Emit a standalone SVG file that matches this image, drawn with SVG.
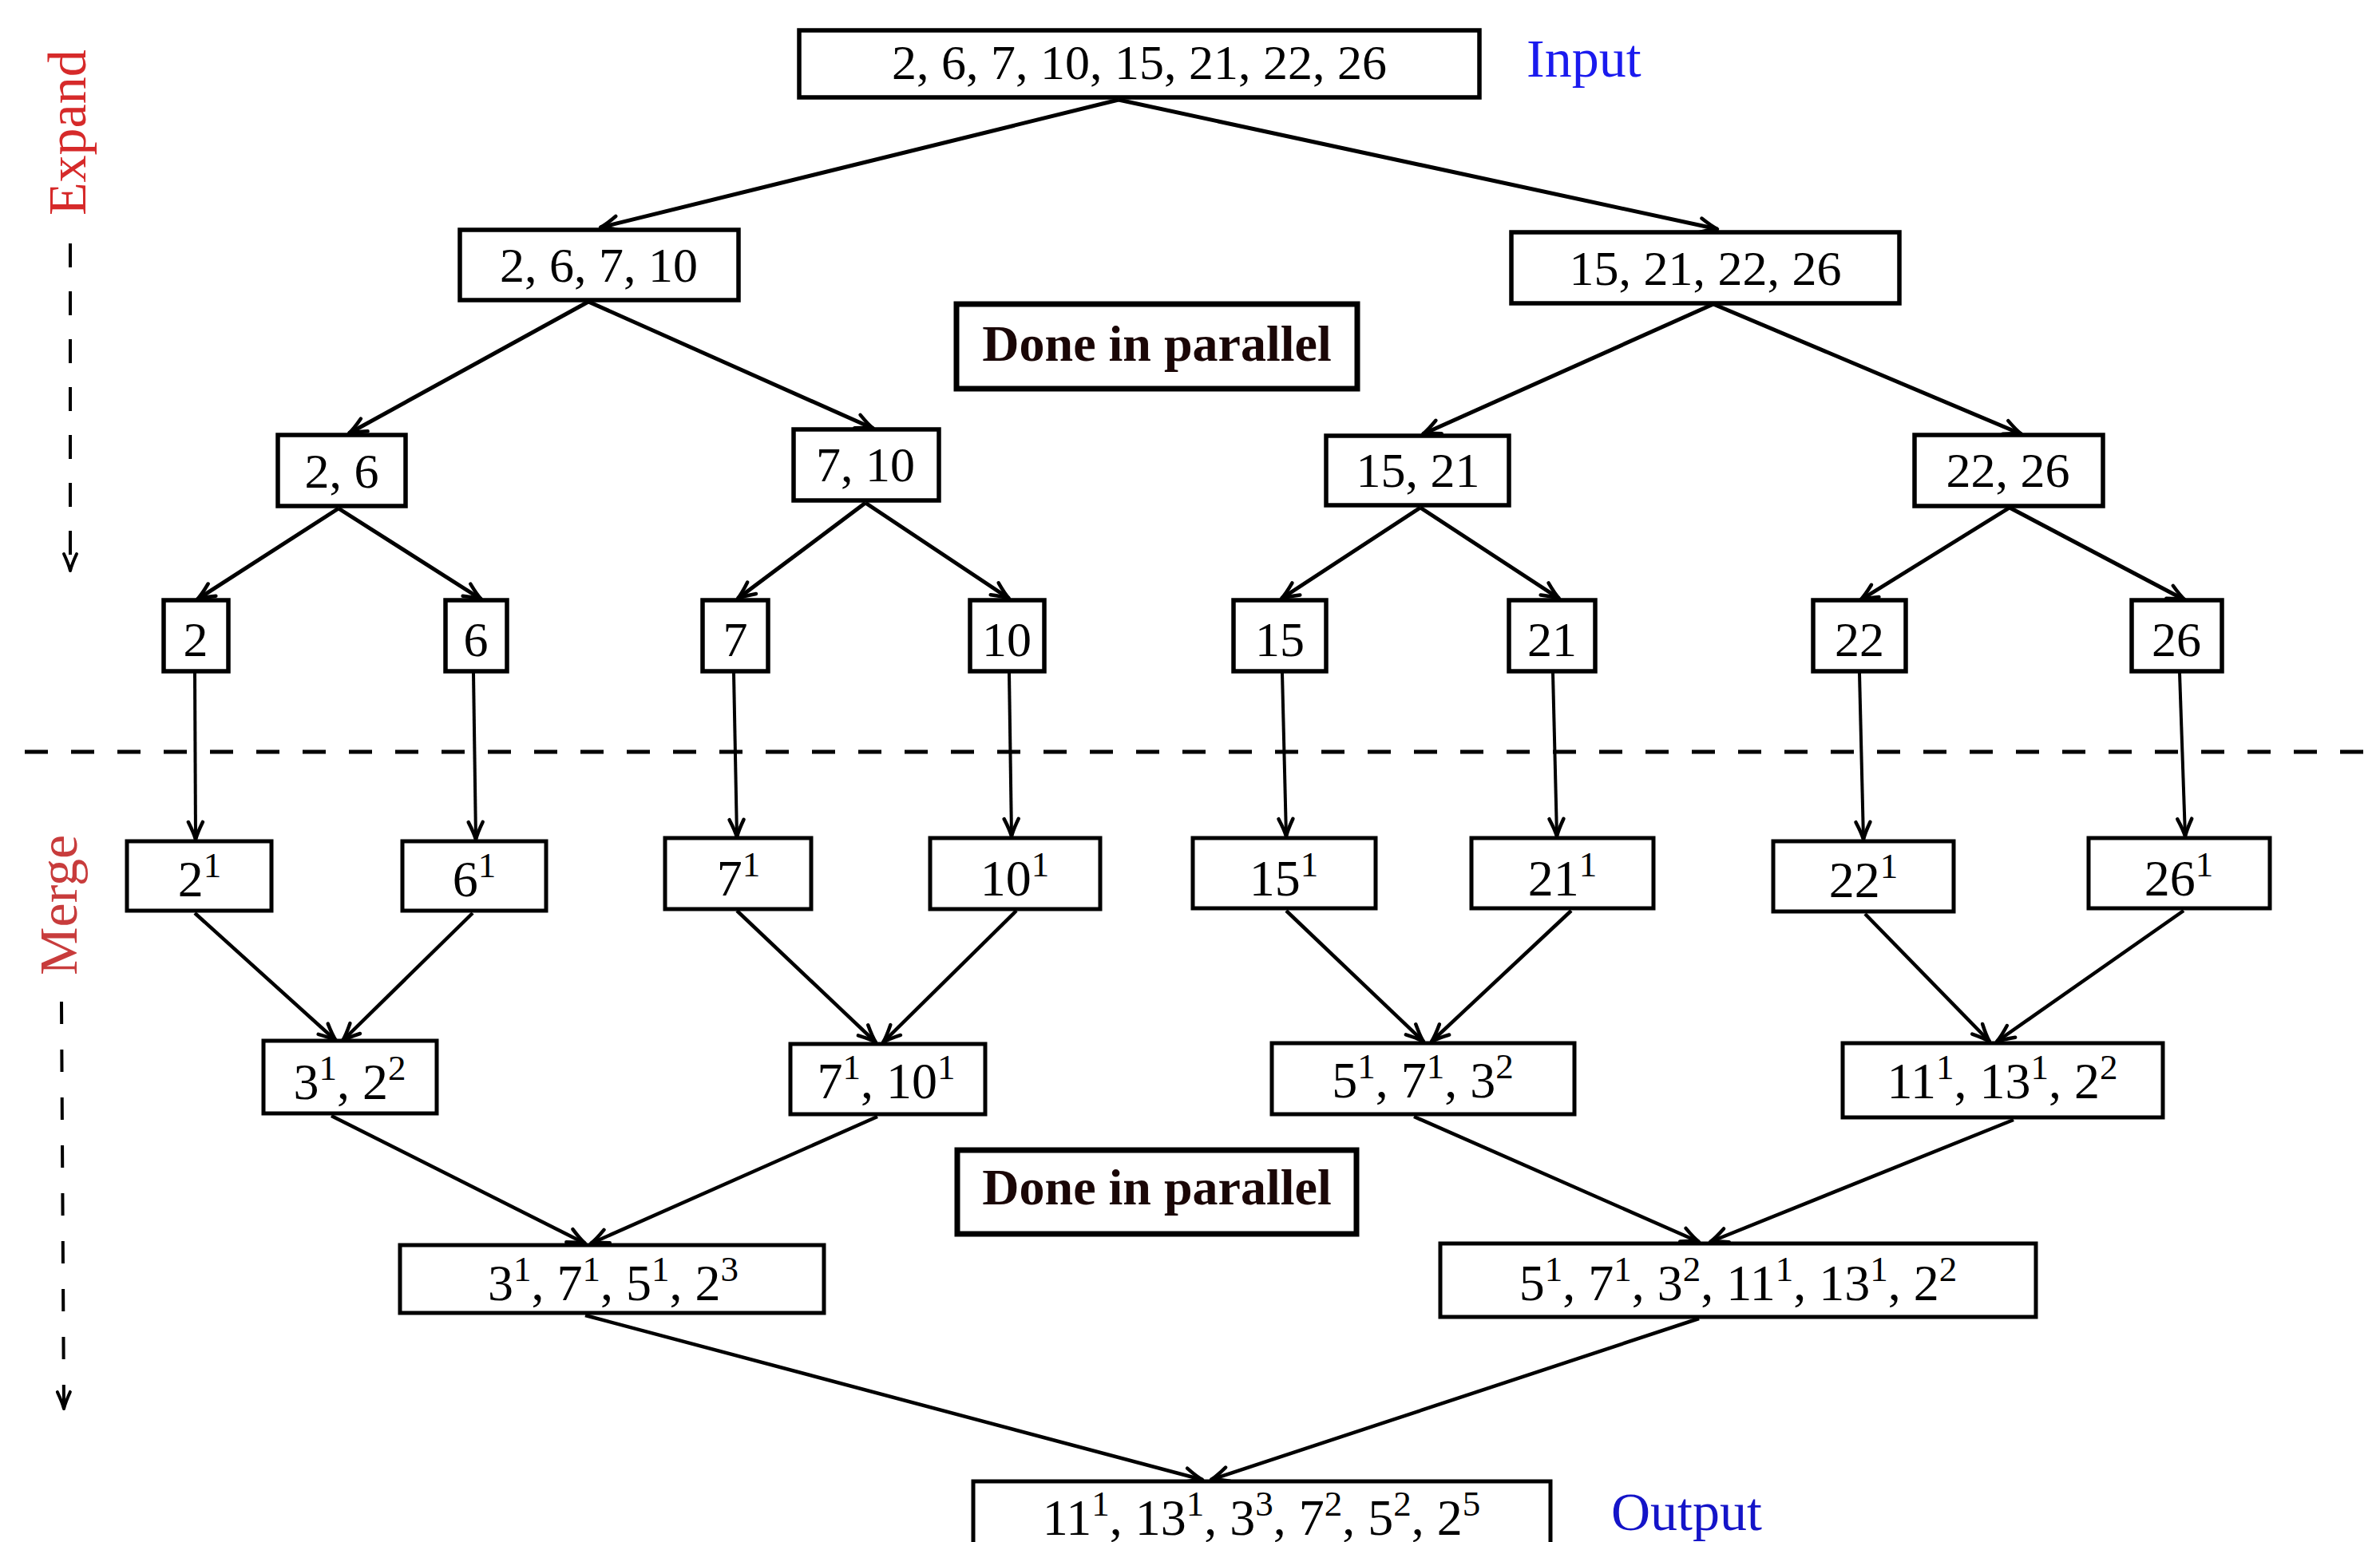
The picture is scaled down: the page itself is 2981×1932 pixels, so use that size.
<svg xmlns="http://www.w3.org/2000/svg" width="2981" height="1932" viewBox="0 0 2981 1932">
<style>
.bx{fill:#fff;stroke:#000;stroke-width:5.5}
.bl{fill:#fff;stroke:#000;stroke-width:5}
.bd{fill:#fff;stroke:#000;stroke-width:7}
.t{font-family:"Liberation Serif","DejaVu Serif",serif;font-size:62px;fill:#000;text-anchor:middle}
.m{font-family:"Liberation Serif","DejaVu Serif",serif;font-size:64px;fill:#000;text-anchor:middle}
.s{font-size:45px}
.dp{font-family:"Liberation Serif","DejaVu Serif",serif;font-size:64px;font-weight:bold;fill:#1a0606;text-anchor:middle}
.lbl{font-family:"Liberation Serif","DejaVu Serif",serif;font-size:68px}
.cu line{stroke:#000;stroke-width:5;marker-end:url(#ah)}
.cl line{stroke:#000;stroke-width:4.5;marker-end:url(#ah)}
.cv line{stroke:#000;stroke-width:4;marker-end:url(#ah)}
</style>
<defs>
<marker id="ah" markerUnits="userSpaceOnUse" markerWidth="40" markerHeight="40" viewBox="-30 -20 40 40" refX="0" refY="0" orient="auto">
<path d="M-22,-9 Q-8,-2 0,0 Q-8,2 -22,9" fill="none" stroke="#000" stroke-width="4.5" stroke-linecap="round" stroke-linejoin="round"/>
</marker>
<marker id="ahs" markerUnits="userSpaceOnUse" markerWidth="40" markerHeight="40" viewBox="-30 -20 40 40" refX="0" refY="0" orient="auto">
<path d="M-21,-8 Q-8,-2 0,0 Q-8,2 -21,8" fill="none" stroke="#000" stroke-width="4" stroke-linecap="round" stroke-linejoin="round"/>
</marker>
</defs>
<rect width="2981" height="1932" fill="#fff"/>

<!-- side labels and separators -->
<g id="expand-label">
<text class="lbl" fill="#d62a2a" transform="translate(107,270) rotate(-90)">Expand</text>
<line x1="88" y1="305" x2="88" y2="715" stroke="#000" stroke-width="4" stroke-dasharray="30 30" marker-end="url(#ahs)"/>
</g>
<g id="merge-label">
<text class="lbl" fill="#c83c3c" transform="translate(96,1222) rotate(-90)">Merge</text>
<line x1="77" y1="1255" x2="80" y2="1765" stroke="#000" stroke-width="4" stroke-dasharray="28 32" marker-end="url(#ahs)"/>
</g>
<line id="separator" x1="31" y1="942" x2="2966" y2="942" stroke="#000" stroke-width="5" stroke-dasharray="29 29"/>
<text id="input-label" class="lbl" x="1912" y="96" fill="#1a1aee">Input</text>
<text id="output-label" class="lbl" x="2018" y="1917" fill="#1414c8">Output</text>

<!-- connectors -->
<g id="connectors">
<g class="cu">
<line x1="1401" y1="125" x2="752" y2="285"/>
<line x1="1401" y1="125" x2="2151" y2="287"/>
<line x1="737" y1="378" x2="437" y2="543"/>
<line x1="737" y1="378" x2="1094" y2="537"/>
<line x1="2146" y1="381" x2="1782" y2="544"/>
<line x1="2146" y1="381" x2="2532" y2="544"/>
<line x1="424" y1="637" x2="247" y2="751"/>
<line x1="424" y1="637" x2="603" y2="751"/>
<line x1="1084" y1="630" x2="924" y2="750"/>
<line x1="1084" y1="630" x2="1264" y2="750"/>
<line x1="1779" y1="636" x2="1605" y2="750"/>
<line x1="1779" y1="636" x2="1953" y2="750"/>
<line x1="2517" y1="636" x2="2330" y2="752"/>
<line x1="2517" y1="636" x2="2737" y2="752"/>
</g>
<g class="cv">
<line x1="244" y1="843" x2="245" y2="1052"/>
<line x1="593" y1="843" x2="596" y2="1052"/>
<line x1="919" y1="843" x2="923" y2="1049"/>
<line x1="1264" y1="843" x2="1267" y2="1048"/>
<line x1="1606" y1="843" x2="1611" y2="1048"/>
<line x1="1945" y1="843" x2="1950" y2="1048"/>
<line x1="2329" y1="843" x2="2334" y2="1052"/>
<line x1="2730" y1="843" x2="2737" y2="1048"/>
</g>
<g class="cl">
<line x1="244" y1="1144" x2="421" y2="1304"/>
<line x1="592" y1="1144" x2="429" y2="1304"/>
<line x1="923" y1="1141" x2="1097" y2="1306"/>
<line x1="1273" y1="1141" x2="1106" y2="1306"/>
<line x1="1611" y1="1141" x2="1783" y2="1305"/>
<line x1="1968" y1="1141" x2="1793" y2="1305"/>
<line x1="2336" y1="1145" x2="2492" y2="1305"/>
<line x1="2735" y1="1141" x2="2501" y2="1305"/>
<line x1="415" y1="1398" x2="733" y2="1558"/>
<line x1="1099" y1="1399" x2="740" y2="1558"/>
<line x1="1771" y1="1399" x2="2128" y2="1556"/>
<line x1="2522" y1="1403" x2="2142" y2="1556"/>
<line x1="733" y1="1648" x2="1506" y2="1854"/>
<line x1="2128" y1="1652" x2="1517" y2="1854"/>
</g>
</g>

<!-- expand nodes -->
<g id="n-input"><rect class="bx" x="1001" y="38" width="852" height="84"/><text class="t" x="1427" y="99">2, 6, 7, 10, 15, 21, 22, 26</text></g>
<g id="n-2-6-7-10"><rect class="bx" x="576" y="288" width="349" height="88"/><text class="t" x="750" y="353">2, 6, 7, 10</text></g>
<g id="n-15-21-22-26"><rect class="bx" x="1893" y="291" width="486" height="89"/><text class="t" x="2136" y="357">15, 21, 22, 26</text></g>
<g id="n-2-6"><rect class="bx" x="348" y="545" width="160" height="89"/><text class="t" x="428" y="611">2, 6</text></g>
<g id="n-7-10"><rect class="bx" x="994" y="538" width="182" height="89"/><text class="t" x="1084" y="603">7, 10</text></g>
<g id="n-15-21"><rect class="bx" x="1661" y="546" width="229" height="87"/><text class="t" x="1776" y="610">15, 21</text></g>
<g id="n-22-26"><rect class="bx" x="2398" y="545" width="236" height="89"/><text class="t" x="2515" y="610">22, 26</text></g>
<g id="n-2"><rect class="bx" x="205" y="752" width="81" height="89"/><text class="t" x="245" y="822">2</text></g>
<g id="n-6"><rect class="bx" x="558" y="752" width="77" height="89"/><text class="t" x="596" y="822">6</text></g>
<g id="n-7"><rect class="bx" x="880" y="752" width="82" height="89"/><text class="t" x="921" y="822">7</text></g>
<g id="n-10"><rect class="bx" x="1215" y="752" width="93" height="89"/><text class="t" x="1261" y="822">10</text></g>
<g id="n-15"><rect class="bx" x="1545" y="752" width="116" height="89"/><text class="t" x="1603" y="822">15</text></g>
<g id="n-21"><rect class="bx" x="1890" y="752" width="108" height="89"/><text class="t" x="1944" y="822">21</text></g>
<g id="n-22"><rect class="bx" x="2271" y="752" width="116" height="89"/><text class="t" x="2329" y="822">22</text></g>
<g id="n-26"><rect class="bx" x="2670" y="752" width="113" height="89"/><text class="t" x="2726" y="822">26</text></g>

<g id="done-1"><rect class="bd" x="1198" y="381" width="502" height="106"/><text class="dp" x="1449" y="452">Done in parallel</text></g>
<g id="done-2"><rect class="bd" x="1199" y="1441" width="500" height="105"/><text class="dp" x="1449" y="1509">Done in parallel</text></g>

<!-- merge nodes -->
<g id="m-2"><rect class="bl" x="159" y="1054" width="181" height="87"/><text class="m" x="250" y="1123">2<tspan class="s" dy="-24">1</tspan></text></g>
<g id="m-6"><rect class="bl" x="504" y="1054" width="180" height="87"/><text class="m" x="594" y="1123">6<tspan class="s" dy="-24">1</tspan></text></g>
<g id="m-7"><rect class="bl" x="833" y="1050" width="183" height="89"/><text class="m" x="925" y="1122">7<tspan class="s" dy="-24">1</tspan></text></g>
<g id="m-10"><rect class="bl" x="1165" y="1050" width="213" height="89"/><text class="m" x="1271" y="1122">10<tspan class="s" dy="-24">1</tspan></text></g>
<g id="m-15"><rect class="bl" x="1494" y="1050" width="229" height="88"/><text class="m" x="1608" y="1122">15<tspan class="s" dy="-24">1</tspan></text></g>
<g id="m-21"><rect class="bl" x="1843" y="1050" width="228" height="88"/><text class="m" x="1957" y="1122">21<tspan class="s" dy="-24">1</tspan></text></g>
<g id="m-22"><rect class="bl" x="2221" y="1054" width="226" height="88"/><text class="m" x="2334" y="1124">22<tspan class="s" dy="-24">1</tspan></text></g>
<g id="m-26"><rect class="bl" x="2616" y="1050" width="227" height="88"/><text class="m" x="2729" y="1122">26<tspan class="s" dy="-24">1</tspan></text></g>

<g id="m-3-2"><rect class="bl" x="330" y="1304" width="217" height="91"/><text class="m" x="438" y="1377">3<tspan class="s" dy="-24">1</tspan><tspan dy="24">, 2</tspan><tspan class="s" dy="-24">2</tspan></text></g>
<g id="m-7-10"><rect class="bl" x="990" y="1308" width="244" height="88"/><text class="m" x="1110" y="1376">7<tspan class="s" dy="-24">1</tspan><tspan dy="24">, 10</tspan><tspan class="s" dy="-24">1</tspan></text></g>
<g id="m-5-7-3"><rect class="bl" x="1593" y="1307" width="379" height="89"/><text class="m" x="1782" y="1375">5<tspan class="s" dy="-24">1</tspan><tspan dy="24">, 7</tspan><tspan class="s" dy="-24">1</tspan><tspan dy="24">, 3</tspan><tspan class="s" dy="-24">2</tspan></text></g>
<g id="m-11-13-2"><rect class="bl" x="2308" y="1307" width="401" height="93"/><text class="m" x="2508" y="1376">11<tspan class="s" dy="-24">1</tspan><tspan dy="24">, 13</tspan><tspan class="s" dy="-24">1</tspan><tspan dy="24">, 2</tspan><tspan class="s" dy="-24">2</tspan></text></g>

<g id="m-left"><rect class="bl" x="501" y="1560" width="531" height="85"/><text class="m" x="768" y="1629">3<tspan class="s" dy="-24">1</tspan><tspan dy="24">, 7</tspan><tspan class="s" dy="-24">1</tspan><tspan dy="24">, 5</tspan><tspan class="s" dy="-24">1</tspan><tspan dy="24">, 2</tspan><tspan class="s" dy="-24">3</tspan></text></g>
<g id="m-right"><rect class="bl" x="1804" y="1558" width="746" height="92"/><text class="m" x="2177" y="1629">5<tspan class="s" dy="-24">1</tspan><tspan dy="24">, 7</tspan><tspan class="s" dy="-24">1</tspan><tspan dy="24">, 3</tspan><tspan class="s" dy="-24">2</tspan><tspan dy="24">, 11</tspan><tspan class="s" dy="-24">1</tspan><tspan dy="24">, 13</tspan><tspan class="s" dy="-24">1</tspan><tspan dy="24">, 2</tspan><tspan class="s" dy="-24">2</tspan></text></g>

<g id="m-output"><rect class="bl" x="1219" y="1856" width="723" height="95"/><text class="m" x="1580" y="1923">11<tspan class="s" dy="-24">1</tspan><tspan dy="24">, 13</tspan><tspan class="s" dy="-24">1</tspan><tspan dy="24">, 3</tspan><tspan class="s" dy="-24">3</tspan><tspan dy="24">, 7</tspan><tspan class="s" dy="-24">2</tspan><tspan dy="24">, 5</tspan><tspan class="s" dy="-24">2</tspan><tspan dy="24">, 2</tspan><tspan class="s" dy="-24">5</tspan></text></g>
</svg>
